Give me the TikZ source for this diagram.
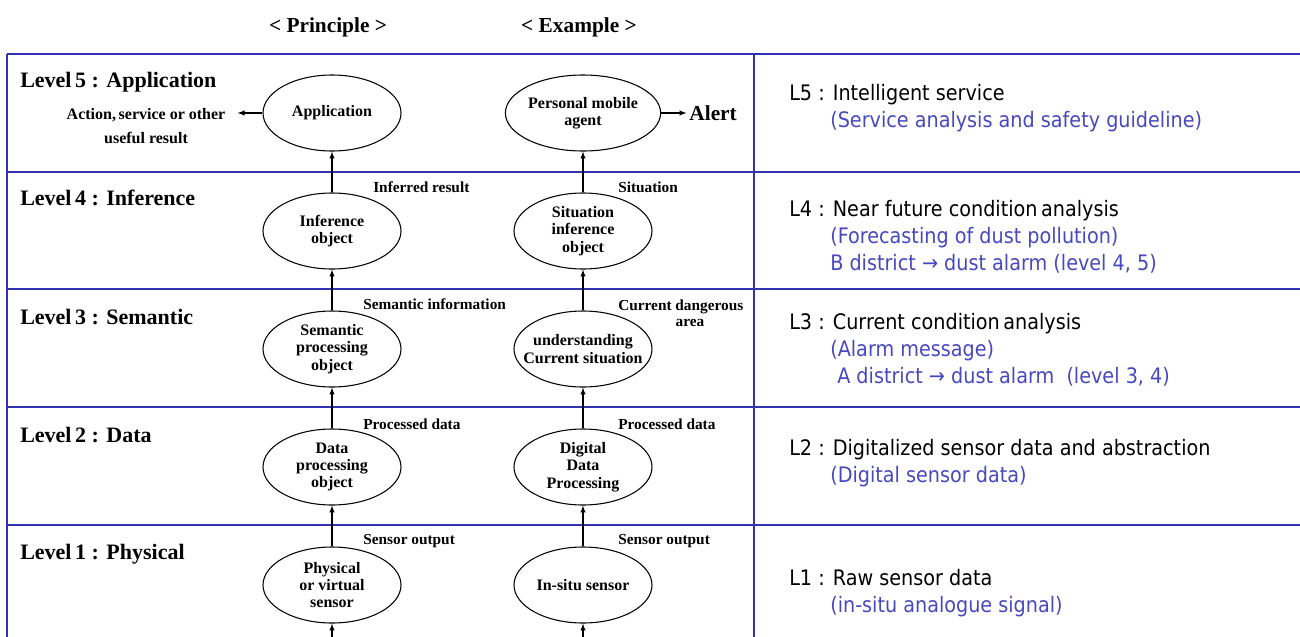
\documentclass[tikz,border=0pt]{standalone}
\usepackage{fontspec}
\setmainfont{Liberation Serif}
\newfontfamily\infofont[FakeStretch=0.9]{DejaVu Sans}
\usepackage{xcolor}
\usepackage{tikz}
\usetikzlibrary{calc, arrows, shapes, positioning}
\definecolor{framecolor}{RGB}{50,50,178}
\definecolor{notecolor}{RGB}{72,72,190}
\tikzset{
    textnode/.style  = {draw=none, fill=none, rectangle, inner sep = 0em, 
      font=\bfseries\fontsize{11.5}{12}\selectfont},
    headnode/.style  = {textnode, font=\bfseries\fontsize{16}{18}\selectfont},
    levelnode/.style = {textnode, anchor=base west, font=\bfseries\fontsize{16.5}{18}\selectfont},
    ellipsenode/.style = {draw, ellipse, line width=0.8pt, inner sep = 0em, minimum width=103.5pt, 
      minimum height=57pt, font=\bfseries\fontsize{12}{13}\selectfont},
    infonode/.style = {draw=none, anchor=base west, inner sep = 0em, font=\infofont\fontsize{16}{20}\selectfont},
    notenode/.style = {infonode, text=notecolor},
    connect/.style = {black, line width=0.8pt, -latex},
    frameline/.style = {draw=framecolor, line width=2pt},
    every text node part/.style={align=center}
}
\begin{document}
\begin{tikzpicture}[x=0.75pt, y=-0.75pt]
\useasboundingbox (0,0) rectangle (1300,636);

% frame
\foreach \y in {54,172,289,407,525}
    \draw[frameline] (7,\y) -- (1310,\y);
\draw[frameline] (7,54) -- (7,650);
\draw[frameline] (754,54) -- (754,650);

\node[headnode, name=hprin] at (328,27) {< Principle >};
\node[headnode, name=hexam] at (579,27) {< Example >};

% levels
\node[levelnode, name=lv5] at (20,87) {Level\,5 : Application};
\node[levelnode, name=lv4] at (20,205) {Level\,4 : Inference};
\node[levelnode, name=lv3] at (20,324) {Level\,3 : Semantic};
\node[levelnode, name=lv2] at (20,442) {Level\,2 : Data};
\node[levelnode, name=lv1] at (20,559) {Level\,1 : Physical};

% principle column
\node[ellipsenode, name=app] at (332,113) {Application};
\node[ellipsenode, name=infobj] at (332,231) {Inference\\object};
\node[ellipsenode, name=semobj] at (332,349) {Semantic\\processing\\object};
\node[ellipsenode, name=dataobj] at (332,467) {Data\\processing\\object};
\node[ellipsenode, name=sensor] at (332,585) {Physical\\or virtual\\sensor};
\node[textnode, name=action, font=\bfseries\fontsize{12}{18}\selectfont] at (146,126) 
	{Action,\,service or other\\useful result};

% example column
\node[ellipsenode, name=pma] at (583,113) {Personal mobile\\agent};
\node[ellipsenode, name=sitobj] at (583,231) {Situation\\inference\\object};
\node[ellipsenode, name=cursit, inner xsep=-8.5pt] at (583,349) {understanding\\Current situation};
\node[ellipsenode, name=digproc] at (583,467) {Digital\\Data\\Processing};
\node[ellipsenode, name=insitu] at (583,585) {In-situ sensor};
\node[textnode, name=alert, right=21pt of pma, font=\bfseries\fontsize{16}{18}\selectfont] {Alert};

% arrow labels
\node[textnode, name=tinf, anchor=west] at (373,187) {Inferred result};
\node[textnode, name=tsem, anchor=west] at (363,304) {Semantic information};
\node[textnode, name=tpro, anchor=west] at (363,424) {Processed data};
\node[textnode, name=tsen, anchor=west] at (363,541) {Sensor output};
\node[textnode, name=tsit, anchor=west] at (618,187) {Situation};
\node[textnode, name=tcur, anchor=west] at (618,313) {Current dangerous\\\hspace*{1.2em}area};
\node[textnode, name=tdpro, anchor=west] at (618,424) {Processed data};
\node[textnode, name=tisen, anchor=west] at (618,541) {Sensor output};

\coordinate (pin) at (332,650);
\coordinate (ein) at (583,650);
\draw[connect] (pin) -- (sensor);
\draw[connect] (sensor) -- (dataobj);
\draw[connect] (dataobj) -- (semobj);
\draw[connect] (semobj) -- (infobj);
\draw[connect] (infobj) -- (app);
\draw[connect, shorten >=9pt] (app.west) -- (app.west -| action.east);
\draw[connect] (ein) -- (insitu);
\draw[connect] (insitu) -- (digproc);
\draw[connect] (digproc) -- (cursit);
\draw[connect] (cursit) -- (sitobj);
\draw[connect] (sitobj) -- (pma);
\draw[connect, shorten >=2pt] (pma) -- (alert);

% right column
\node[infonode, name=l5main] at (789,100) {L5 : Intelligent service};
\node[notenode, name=l5note] at (830,127) {(Service analysis and safety guideline)};
\node[infonode, name=l4main] at (789,216) {L4 : Near future condition\,analysis};
\node[notenode, name=l4note] at (830,243) {(Forecasting of dust pollution)};
\node[notenode, name=l4dist] at (830,270) {B district \textrightarrow\ dust alarm (level 4, 5)};
\node[infonode, name=l3main] at (789,329) {L3 : Current condition\,analysis};
\node[notenode, name=l3note] at (830,356) {(Alarm message)};
\node[notenode, name=l3dist] at (837,383) {A district \textrightarrow\ dust alarm\ \ (level 3, 4)};
\node[infonode, name=l2main] at (789,455) {L2 : Digitalized sensor data and abstraction};
\node[notenode, name=l2note] at (830,482) {(Digital sensor data)};
\node[infonode, name=l1main] at (789,585) {L1 : Raw sensor data};
\node[notenode, name=l1note] at (830,612) {(in-situ analogue signal)};
\end{tikzpicture}
\end{document}
